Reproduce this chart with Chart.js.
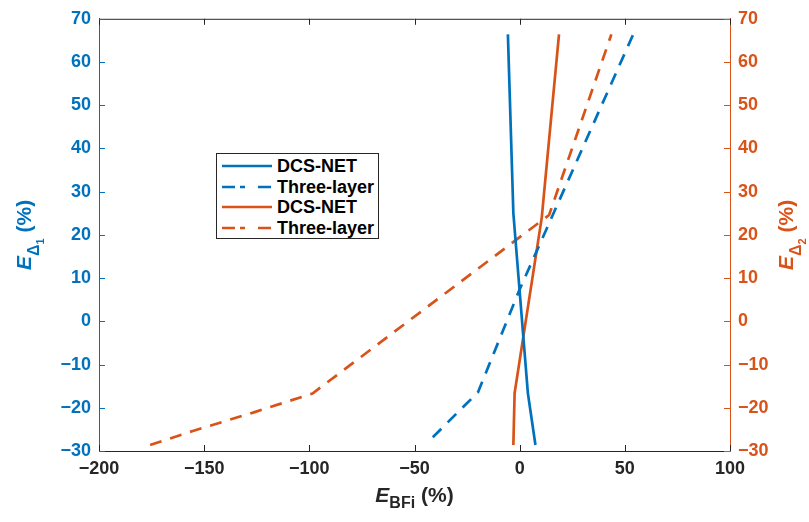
<!DOCTYPE html>
<html>
<head>
<meta charset="utf-8">
<script src="https://cdn.jsdelivr.net/npm/chart.js@4.4.0/dist/chart.umd.min.js"></script>
<style>
  html, body { margin: 0; padding: 0; background: #fff; }
  #wrap { position: relative; width: 809px; height: 522px; }
  #legend {
    position: absolute; left: 216px; top: 153px; width: 161px; height: 84px;
    border: 1.5px solid #262626; background: #fff;
    font: bold 18px "Liberation Sans", Arial, sans-serif; color: #000;
  }
  .row { position: absolute; left: 0; width: 160px; height: 20px; line-height: 20px; }
  .row svg { position: absolute; left: 5px; top: 8px; }
  .row span { position: absolute; left: 60px; top: 0; white-space: nowrap; }
</style>
</head>
<body>
<div id="wrap">
  <canvas id="chart" width="809" height="522"></canvas>
  <div id="legend"></div>
</div>
<script>
// values
const xTicks = [-200, -150, -100, -50, 0, 50, 100];
const yTicks = [-30, -20, -10, 0, 10, 20, 30, 40, 50, 60, 70];

const dcsNet1X = [-5.6, -3.0, 3.9, 7.5];
const dcsNet1Y = [66.4, 25.0, -16.6, -28.6];
const threeLayer1X = [-41.3, -19.8, 0.0, 53.8];
const threeLayer1Y = [-26.8, -16.4, 7.4, 66.2];

const dcsNet2X = [-3.0, -2.4, 10.5, 18.7];
const dcsNet2Y = [-28.6, -16.6, 24.0, 66.4];
const threeLayer2X = [-175.7, -155, -126, -98.5, 14.0, 43.6];
const threeLayer2Y = [-28.6, -25.3, -21.0, -16.7, 24.6, 66.4];

const BLUE = '#0072BD';
const ORANGE = '#D95319';
const AXIS = '#262626';
const FONT = '"Liberation Sans", Arial, sans-serif';

const toPoints = (xs, ys) => xs.map((x, i) => ({ x: x, y: ys[i] }));
const fmt = v => v < 0 ? '\u2212' + Math.abs(v) : String(v);

const series = [
    { label: 'DCS-NET', xs: dcsNet1X, ys: dcsNet1Y, color: BLUE, dash: [], axis: 'y' },
    { label: 'Three-layer', xs: threeLayer1X, ys: threeLayer1Y, color: BLUE, dash: [12, 9], axis: 'y' },
    { label: 'DCS-NET', xs: dcsNet2X, ys: dcsNet2Y, color: ORANGE, dash: [], axis: 'y2' },
    { label: 'Three-layer', xs: threeLayer2X, ys: threeLayer2Y, color: ORANGE, dash: [12, 9], axis: 'y2' }
];

function drawRich(ctx, parts, x, y, angle) {
    ctx.save();
    ctx.translate(x, y);
    ctx.rotate(angle);
    let total = 0;
    parts.forEach(p => {
        ctx.font = p.font;
        p.w = ctx.measureText(p.text).width;
        total += p.w;
    });
    let cx = -total / 2;
    ctx.textAlign = 'left';
    ctx.textBaseline = 'alphabetic';
    parts.forEach(p => {
        ctx.font = p.font;
        ctx.fillStyle = p.color;
        ctx.fillText(p.text, cx, p.dy || 0);
        cx += p.w;
    });
    ctx.restore();
}

const framePlugin = {
    id: 'frame',
    afterDraw(chart) {
        const ctx = chart.ctx;
        const a = chart.chartArea;
        const sx = chart.scales.x;
        const sy = chart.scales.y;
        const sy2 = chart.scales.y2;
        const tl = 6;
        ctx.save();
        ctx.lineWidth = 1;
        // top border
        ctx.strokeStyle = AXIS;
        ctx.beginPath();
        ctx.moveTo(a.left, a.top + 0.5);
        ctx.lineTo(a.right, a.top + 0.5);
        ctx.stroke();
        // inward x ticks, bottom and top
        xTicks.forEach(v => {
            const px = Math.round(sx.getPixelForValue(v)) + 0.5;
            ctx.beginPath();
            ctx.moveTo(px, a.bottom);
            ctx.lineTo(px, a.bottom - tl);
            ctx.moveTo(px, a.top);
            ctx.lineTo(px, a.top + tl);
            ctx.stroke();
        });
        // inward y ticks
        ctx.strokeStyle = BLUE;
        yTicks.forEach(v => {
            const py = Math.round(sy.getPixelForValue(v)) + 0.5;
            ctx.beginPath();
            ctx.moveTo(a.left, py);
            ctx.lineTo(a.left + tl, py);
            ctx.stroke();
        });
        ctx.strokeStyle = ORANGE;
        yTicks.forEach(v => {
            const py = Math.round(sy2.getPixelForValue(v)) + 0.5;
            ctx.beginPath();
            ctx.moveTo(a.right, py);
            ctx.lineTo(a.right - tl, py);
            ctx.stroke();
        });
        ctx.restore();

        const big = 'bold 21px ' + FONT;
        const bigIt = 'italic bold 21px ' + FONT;
        const sub = 'bold 16px ' + FONT;
        const subsub = 'bold 11px ' + FONT;
        const midY = (a.top + a.bottom) / 2;

        drawRich(ctx, [
            { text: 'E', font: bigIt, color: AXIS },
            { text: 'BFi', font: sub, color: AXIS, dy: 6 },
            { text: ' (%)', font: big, color: AXIS }
        ], (a.left + a.right) / 2, 502, 0);

        drawRich(ctx, [
            { text: 'E', font: bigIt, color: BLUE },
            { text: '\u0394', font: sub, color: BLUE, dy: 8 },
            { text: '1', font: subsub, color: BLUE, dy: 13 },
            { text: ' (%)', font: big, color: BLUE }
        ], 31, midY, -Math.PI / 2);

        drawRich(ctx, [
            { text: 'E', font: bigIt, color: ORANGE },
            { text: '\u0394', font: sub, color: ORANGE, dy: 8 },
            { text: '2', font: subsub, color: ORANGE, dy: 13 },
            { text: ' (%)', font: big, color: ORANGE }
        ], 793, midY, -Math.PI / 2);
    }
};

function yScale(position, color, width) {
    return {
        type: 'linear',
        position: position,
        min: -30,
        max: 70,
        afterFit: s => { s.width = width; },
        grid: { display: false, drawTicks: false },
        border: { display: true, color: color, width: 1 },
        ticks: {
            stepSize: 10,
            padding: 8,
            color: color,
            font: { family: FONT, size: 18, weight: 'bold' },
            callback: fmt
        }
    };
}

function buildLegend() {
    const box = document.getElementById('legend');
    series.forEach((s, i) => {
        const row = document.createElement('div');
        row.className = 'row';
        row.style.top = (2 + i * 20.7) + 'px';
        const dash = s.dash.length ? ' stroke-dasharray="13 5 5 13"' : '';
        row.innerHTML = `<svg width="52" height="4"><line x1="0" y1="2" x2="50" y2="2" stroke="${s.color}" stroke-width="2.5"${dash}/></svg><span>${s.label}</span>`;
        box.appendChild(row);
    });
}

document.addEventListener('DOMContentLoaded', () => {
    buildLegend();
    const ctx = document.getElementById('chart').getContext('2d');
    new Chart(ctx, {
        type: 'scatter',
        data: {
            datasets: series.map(s => ({
                label: s.label,
                data: toPoints(s.xs, s.ys),
                showLine: true,
                borderColor: s.color,
                backgroundColor: s.color,
                borderWidth: 2.7,
                borderDash: s.dash,
                pointRadius: 0,
                tension: 0,
                yAxisID: s.axis
            }))
        },
        options: {
            responsive: false,
            animation: false,
            devicePixelRatio: 1,
            layout: { padding: { top: 16, left: 0, right: 0, bottom: 0 } },
            plugins: { legend: { display: false }, tooltip: { enabled: false } },
            scales: {
                x: {
                    type: 'linear',
                    position: 'bottom',
                    min: -200,
                    max: 100,
                    afterFit: s => { s.height = 71; },
                    grid: { display: false, drawTicks: false },
                    border: { display: true, color: AXIS, width: 1 },
                    ticks: {
                        stepSize: 50,
                        padding: 7,
                        color: AXIS,
                        font: { family: FONT, size: 18, weight: 'bold' },
                        callback: fmt
                    }
                },
                y: yScale('left', BLUE, 99),
                y2: yScale('right', ORANGE, 79)
            }
        },
        plugins: [framePlugin]
    });
});
</script>
</body>
</html>
